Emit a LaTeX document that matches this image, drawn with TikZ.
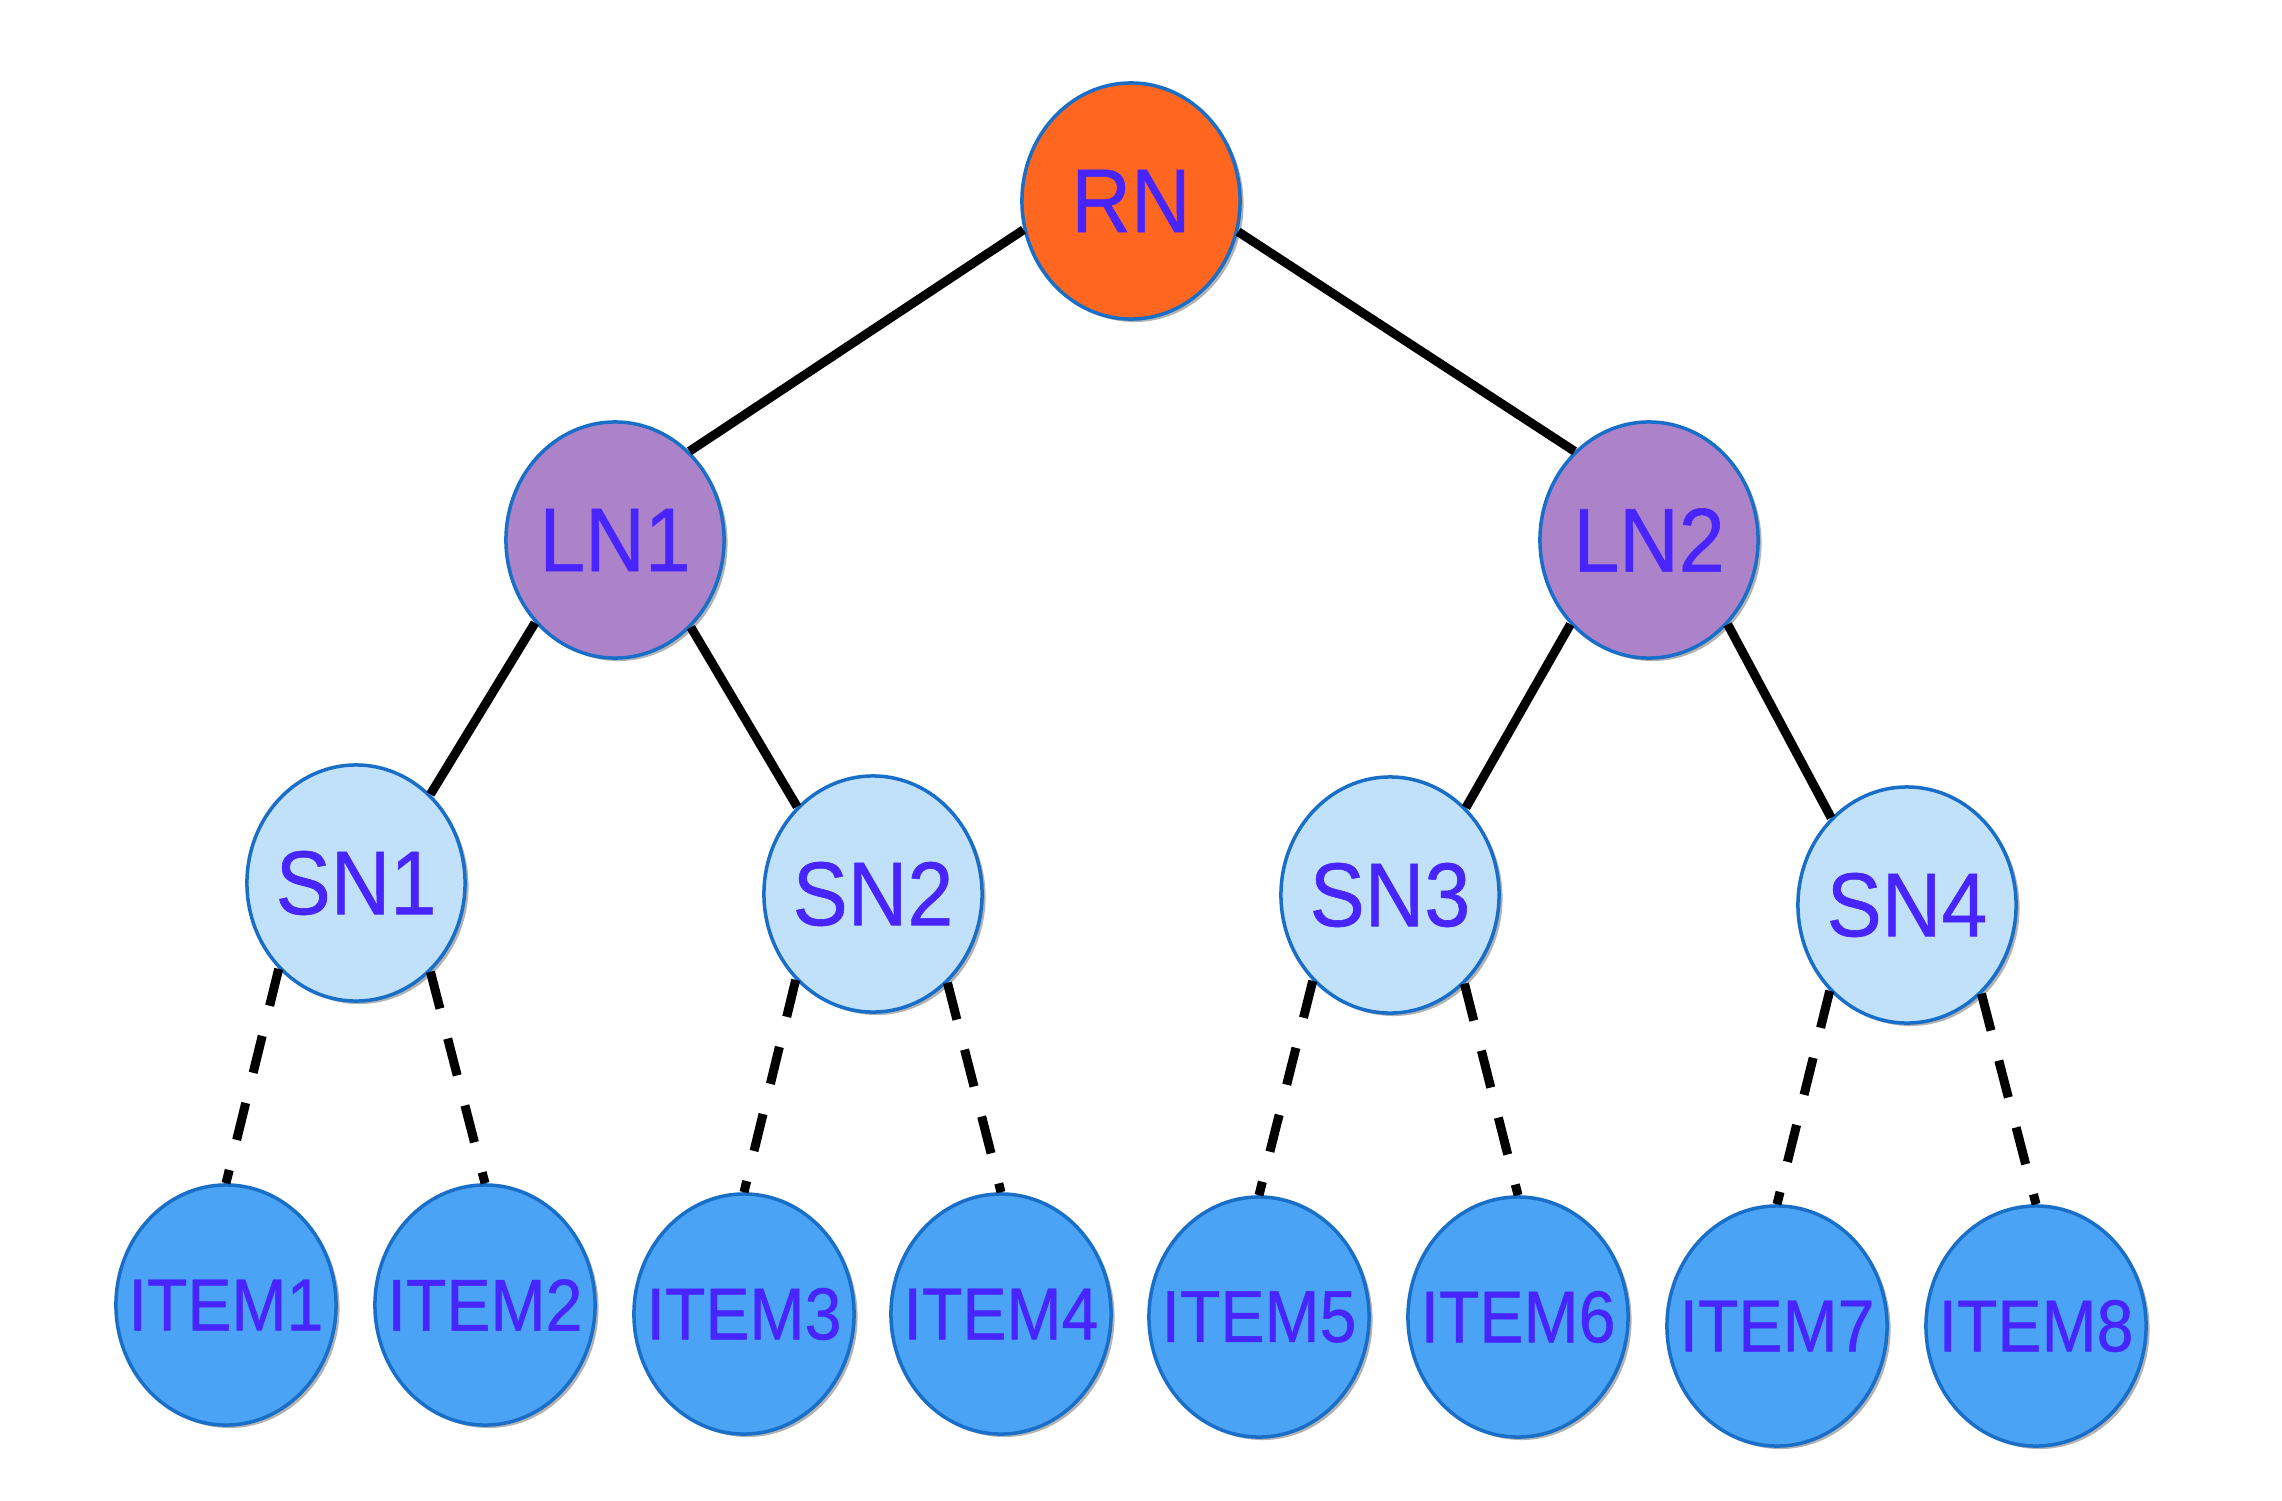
\documentclass[tikz,border=0pt]{standalone}
\usepackage{fontspec}
\newfontfamily\nodefont{Liberation Sans}[FakeStretch=0.91,FakeBold=0.6]
\newfontfamily\itemfont{Liberation Sans}[FakeStretch=0.90,FakeBold=0.6]
\usetikzlibrary{shapes.geometric,shadows}
\definecolor{txtblue}{RGB}{72,36,255}
\definecolor{rimblue}{RGB}{25,110,200}
\definecolor{rnfill}{RGB}{255,102,32}
\definecolor{lnfill}{RGB}{172,130,200}
\definecolor{snfill}{RGB}{193,225,250}
\definecolor{itfill}{RGB}{74,163,245}
\tikzset{
  treenode/.style={ellipse, draw=rimblue, line width=0.035cm, inner sep=0pt,
    minimum width=2.18cm, minimum height=2.36cm, text=txtblue,
    drop shadow={shadow xshift=0.035cm, shadow yshift=-0.03cm, opacity=0.3, fill=black},
    font=\nodefont\fontsize{25.8}{30}\selectfont},
  rootnode/.style={treenode, fill=rnfill},
  levelnode/.style={treenode, fill=lnfill},
  subnode/.style={treenode, fill=snfill},
  itemnode/.style={treenode, fill=itfill, minimum width=2.2cm, minimum height=2.4cm,
    font=\itemfont\fontsize{20.9}{25}\selectfont},
  solidedge/.style={line width=0.09cm, black},
  dashedge/.style={line width=0.09cm, black, dash pattern=on 0.38cm off 0.31cm}
}
\newcommand{\nolabwidth}[1]{\makebox[0pt]{#1}}
\begin{document}
\begin{tikzpicture}[x=0.01cm, y=-0.01cm]
\useasboundingbox (0,0) rectangle (2282,1500);
\node[rootnode] (RN) at (1131,201) {\nolabwidth{RN}};
\node[levelnode] (LN1) at (615,540) {\nolabwidth{LN1}};
\node[levelnode] (LN2) at (1649,540) {\nolabwidth{LN2}};
\node[subnode] (SN1) at (356,883) {\nolabwidth{SN1}};
\node[subnode] (SN2) at (873,894) {\nolabwidth{SN2}};
\node[subnode] (SN3) at (1390,895) {\nolabwidth{SN3}};
\node[subnode] (SN4) at (1907,905) {\nolabwidth{SN4}};
\node[itemnode] (I1) at (226,1305) {\nolabwidth{ITEM1}};
\node[itemnode] (I2) at (485,1305) {\nolabwidth{ITEM2}};
\node[itemnode] (I3) at (744,1314) {\nolabwidth{ITEM3}};
\node[itemnode] (I4) at (1001,1314) {\nolabwidth{ITEM4}};
\node[itemnode] (I5) at (1259,1317) {\nolabwidth{ITEM5}};
\node[itemnode] (I6) at (1518,1317) {\nolabwidth{ITEM6}};
\node[itemnode] (I7) at (1777,1326) {\nolabwidth{ITEM7}};
\node[itemnode] (I8) at (2036,1326) {\nolabwidth{ITEM8}};
\draw[solidedge] (RN.195) -- (LN1.50);
\draw[solidedge] (RN.344) -- (LN2.130);
\draw[solidedge] (LN1.226) -- (SN1.50);
\draw[solidedge] (LN1.311) -- (SN2.131);
\draw[solidedge] (LN2.227) -- (SN3.49);
\draw[solidedge] (LN2.313) -- (SN4.131);
\draw[dashedge] (SN1.228) -- (I1.north);
\draw[dashedge] (SN1.310) -- (I2.north);
\draw[dashedge] (SN2.228) -- (I3.north);
\draw[dashedge] (SN2.310) -- (I4.north);
\draw[dashedge] (SN3.228) -- (I5.north);
\draw[dashedge] (SN3.310) -- (I6.north);
\draw[dashedge] (SN4.228) -- (I7.north);
\draw[dashedge] (SN4.310) -- (I8.north);
\end{tikzpicture}
\end{document}
